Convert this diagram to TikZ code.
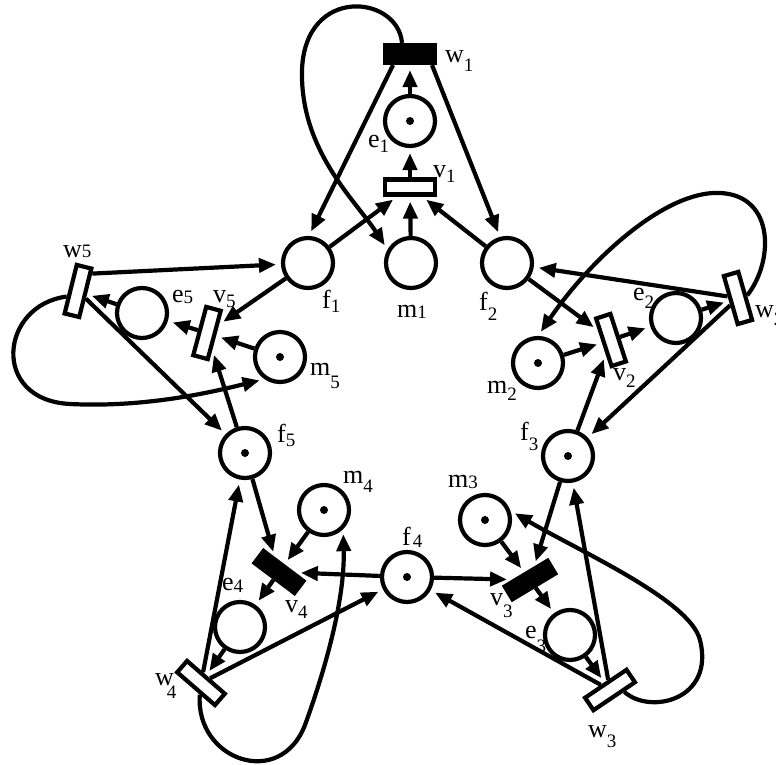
\documentclass[tikz,border=0pt]{standalone}
\usepackage{fontspec}
\setmainfont{Liberation Serif}
\usetikzlibrary{arrows.meta,calc}
\newcommand{\lb}[3]{#2\raisebox{-#1pt}{\fontsize{19}{19}\selectfont #3}}
\begin{document}
\begin{tikzpicture}[x=1pt,y=-1pt,
  place/.style={circle,draw,line width=4.2pt,minimum size=50pt,inner sep=0pt},
  trans/.style={rectangle,draw,line width=4.2pt,minimum width=50pt,minimum height=15pt,inner sep=0pt,fill=white},
  btrans/.style={trans,fill=black},
  tok/.style={circle,fill=black,minimum size=8pt,inner sep=0pt},
  arc/.style={line width=4.2pt,-{Triangle[length=17pt,width=14pt]},shorten >=5pt},
  lab/.style={font=\fontsize{26}{26}\selectfont,inner sep=0pt,anchor=base west}]
\useasboundingbox (0,0) rectangle (776,765);
% places
\node[place] (e1) at (410,121) {};
\node[place] (m1) at (411,263) {};
\node[place] (f1) at (308,263) {};
\node[place] (f2) at (507,263) {};
\node[place] (e2) at (676,318) {};
\node[place] (m2) at (538,363) {};
\node[place] (f3) at (568,456) {};
\node[place] (e3) at (570,635) {};
\node[place] (m3) at (485,520) {};
\node[place] (f4) at (407,577) {};
\node[place] (e4) at (240,627) {};
\node[place] (m4) at (324,510) {};
\node[place] (f5) at (245,453) {};
\node[place] (e5) at (142,313) {};
\node[place] (m5) at (280,357) {};
% tokens
\node[tok] (te1) at (e1) {};
\node[tok] (tm2) at (m2) {};
\node[tok] (tf3) at (f3) {};
\node[tok] (tm3) at (m3) {};
\node[tok] (tf4) at (f4) {};
\node[tok] (tm4) at (m4) {};
\node[tok] (tf5) at (f5) {};
\node[tok] (tm5) at (m5) {};
% transitions
\node[btrans,minimum height=18pt] (w1) at (410,54) {};
\node[trans] (v1) at (410,187) {};
\node[trans,rotate=-74] (w2) at (738,298) {};
\node[trans,rotate=-72] (v2) at (611,340) {};
\node[btrans,rotate=31] (v3) at (530,580) {};
\node[trans,rotate=34] (w3) at (610,690) {};
\node[btrans,rotate=-37] (v4) at (279,572) {};
\node[trans,rotate=-41] (w4) at (201,683) {};
\node[trans,rotate=76] (w5) at (78,291) {};
\node[trans,rotate=75] (v5) at (207,333) {};
% philosopher 1
\draw[arc] (e1) -- (w1);
\draw[arc] (v1) -- (e1);
\draw[arc] (m1) -- (v1);
\draw[arc] (f1) -- (v1);
\draw[arc] (f2) -- (v1);
\draw[arc] ([xshift=-17pt]w1.south) -- (f1.88);
\draw[arc] ([xshift=22pt]w1.south) -- (f2.105);
\draw[arc] ([xshift=-8pt]w1.north) .. controls (398,-5) and (305,-15) .. (302,70)
  .. controls (300,150) and (355,200) .. (m1.150);
% philosopher 2
\draw[arc] (w2) -- (f2);
\draw[arc] (f2) -- (v2);
\draw[arc] (m2) -- (v2);
\draw[arc] (f3) -- (v2);
\draw[arc] (v2) -- (e2);
\draw[arc] (e2) -- (w2);
\draw[arc] (w2) -- (f3);
\draw[arc] (w2.north) .. controls (775,260) and (775,190) .. (713,193)
  .. controls (660,196) and (590,260) .. (m2.90);
% philosopher 3
\draw[arc] (f3) -- (v3);
\draw[arc] (m3) -- (v3);
\draw[arc] (f4) -- (v3);
\draw[arc] (v3) -- (e3);
\draw[arc] (e3) -- (w3);
\draw[arc] (w3) -- (f3);
\draw[arc] (w3) -- (f4);
\draw[arc] ($(w3.south)!0.4!(w3.south east)$) .. controls (650,715) and (715,700) .. (700,640)
  .. controls (690,600) and (579,551) .. (m3.20);
% philosopher 4
\draw[arc] (f4) -- (v4);
\draw[arc] (m4) -- (v4);
\draw[arc] (f5) -- (v4);
\draw[arc] (v4) -- (e4);
\draw[arc] (e4) -- (w4);
\draw[arc] (w4) -- (f5);
\draw[arc] (w4) -- (f4);
\draw[arc] ($(w4.south)!0.25!(w4.south east)$) .. controls (195,760) and (280,790) .. (305,725)
  .. controls (325,670) and (345,600) .. (m4.-45);
% philosopher 5
\draw[arc] ($(w5.south east)!0.25!(w5.south)$) -- (f1);
\draw[arc] (f1) -- (v5);
\draw[arc] (m5) -- (v5);
\draw[arc] (f5) -- (v5);
\draw[arc] (v5) -- (e5);
\draw[arc] (e5) -- (w5);
\draw[arc] (w5) -- (f5);
\draw[arc] ($(w5.north)!0.3!(w5.north west)$) .. controls (0,305) and (-10,400) .. (70,404)
  .. controls (150,408) and (220,390) .. (m5.235);
% labels
\node[lab] (lw1) at (445,63) {\lb{9}{w}{1}};
\node[lab] (le1) at (368,147) {\lb{5}{e}{1}};
\node[lab] (lv1) at (433,177) {\lb{5}{v}{1}};
\node[lab] (lf1) at (322,308) {\lb{4}{f}{1}};
\node[lab] (lm1) at (397,317) {\lb{1}{m}{1}};
\node[lab] (lf2) at (479,310) {\lb{10}{f}{2}};
\node[lab] (le2) at (633,300) {\lb{8}{e}{2}};
\node[lab] (lw2) at (755,317) {\lb{8}{w}{2}};
\node[lab] (lv2) at (613,380) {\lb{7}{v}{2}};
\node[lab] (lm2) at (487,393) {\lb{7}{m}{2}};
\node[lab] (lf3) at (520,440) {\lb{10}{f}{3}};
\node[lab] (lm3) at (448,487) {\lb{1}{m}{3}};
\node[lab] (lv3) at (490,605) {\lb{12}{v}{3}};
\node[lab] (le3) at (525,638) {\lb{14}{e}{3}};
\node[lab] (lw3) at (588,737) {\lb{10}{w}{3}};
\node[lab] (lf4) at (402,545) {\lb{2}{f\kern2pt}{4}};
\node[lab] (lm4) at (343,483) {\lb{9}{m}{4}};
\node[lab] (lv4) at (285,612) {\lb{6}{v}{4}};
\node[lab] (le4) at (222,590) {\lb{2}{e}{4}};
\node[lab] (lw4) at (155,685) {\lb{13}{w}{\kern-7pt 4}};
\node[lab] (lf5) at (277,442) {\lb{4}{f}{5}};
\node[lab] (lm5) at (310,375) {\lb{13}{m}{5}};
\node[lab] (le5) at (172,302) {\lb{1}{e}{5}};
\node[lab] (lv5) at (213,302) {\lb{5}{v}{5}};
\node[lab] (lw5) at (63,257) {\lb{0}{w}{5}};
\end{tikzpicture}
\end{document}
